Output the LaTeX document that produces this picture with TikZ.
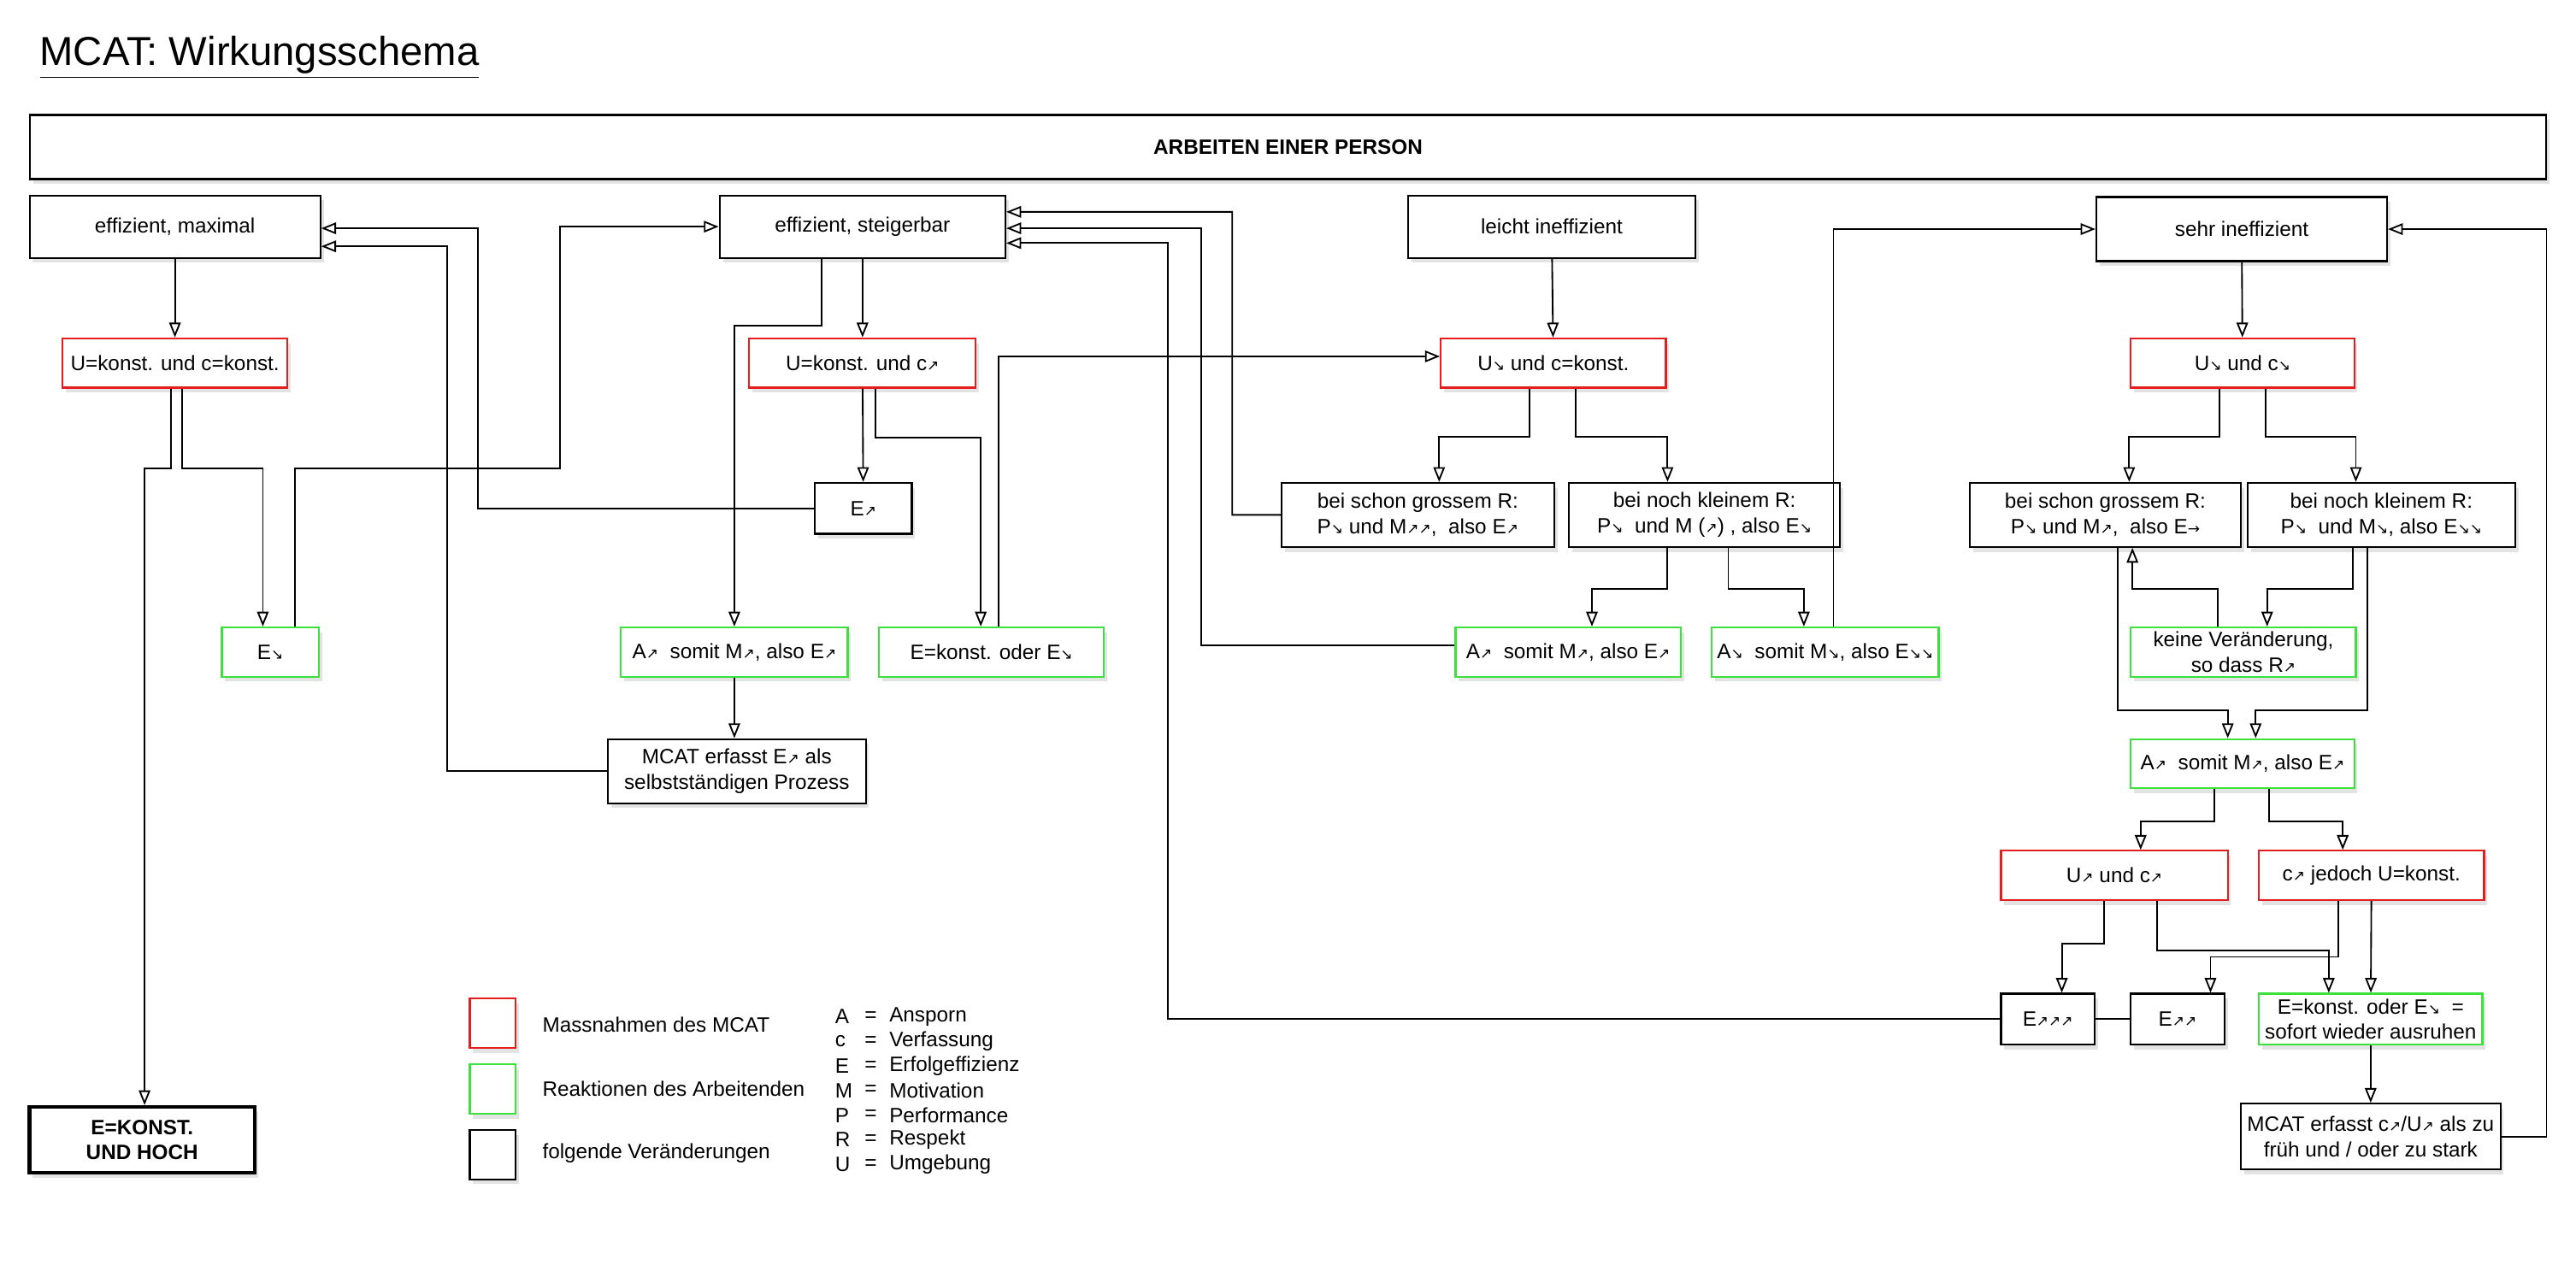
\documentclass[tikz,border=0pt]{standalone}
\usepackage{fontspec}
\setmainfont{Liberation Sans}
\newfontfamily\arrfont{DejaVu Sans}[Scale=0.7]
\newcommand{\nea}{{\arrfont\char"2197}}
\newcommand{\sea}{{\arrfont\char"2198}}
\newcommand{\rar}{{\arrfont\char"2192}}
\usetikzlibrary{arrows.meta}
\usetikzlibrary{positioning}
\usetikzlibrary{shadows}
\definecolor{mred}{RGB}{228,30,30}
\definecolor{mgreen}{RGB}{60,225,60}

\begin{document}
\begin{tikzpicture}[x=0.02cm, y=-0.02cm, font=\fontsize{7.2}{8.8}\selectfont]
    \tikzstyle{box}=[draw, fill=white, line width=0.65pt, align=center, inner sep=1pt,
        drop shadow={shadow xshift=0.04cm, shadow yshift=-0.06cm, opacity=0.22}]
    \tikzstyle{mass}=[box, draw=mred]
    \tikzstyle{reak}=[box, draw=mgreen]
    \tikzstyle{arr}=[-{Triangle[open, length=0.18cm, width=0.14cm]}, line width=0.55pt]
    \tikzstyle{line}=[line width=0.55pt]

    \useasboundingbox (0,0) rectangle (1568,777.5);

    \node[anchor=west, font=\fontsize{14}{16}\selectfont] (title) at (18,35) {\underline{MCAT: Wirkungsschema}};
    \node[box, minimum width=30.64cm, minimum height=0.78cm, font=\fontsize{7.2}{8.8}\bfseries] (header) at (784,89.5) {ARBEITEN EINER PERSON};

    \node[box, minimum width=3.54cm, minimum height=0.76cm] (effmax) at (106.5,138) {effizient, maximal};
    \node[box, minimum width=3.48cm, minimum height=0.76cm] (effst) at (525,138) {effizient, steigerbar};
    \node[box, minimum width=3.5cm, minimum height=0.76cm] (leicht) at (944.5,138) {leicht ineffizient};
    \node[box, minimum width=3.54cm, minimum height=0.78cm] (sehr) at (1364.5,139.5) {sehr ineffizient};

    \node[mass, minimum width=2.74cm, minimum height=0.6cm] (U1) at (106.5,221) {U=konst. und c=konst.};
    \node[mass, minimum width=2.76cm, minimum height=0.6cm] (U2) at (525,221) {U=konst. und c\nea};
    \node[mass, minimum width=2.74cm, minimum height=0.6cm] (U3) at (945.5,221) {U\sea\ und c=konst.};
    \node[mass, minimum width=2.72cm, minimum height=0.6cm] (U4) at (1365,221) {U\sea\ und c\sea};

    \node[box, minimum width=1.18cm, minimum height=0.62cm] (Eup) at (525.5,309.5) {E\nea};
    \node[box, minimum width=3.32cm, minimum height=0.78cm] (bs1) at (863,313.5) {bei schon grossem R:\\P\sea\ und M\nea\nea,\ \ also E\nea};
    \node[box, minimum width=3.3cm, minimum height=0.78cm] (bn1) at (1037.5,313.5) {bei noch kleinem R:\\P\sea\ \ und M (\nea) , also E\sea};
    \node[box, minimum width=3.3cm, minimum height=0.78cm] (bs2) at (1281.5,313.5) {bei schon grossem R:\\P\sea\ und M\nea,\ \ also E\rar};
    \node[box, minimum width=3.26cm, minimum height=0.78cm] (bn2) at (1449.5,313.5) {bei noch kleinem R:\\P\sea\ \ und M\sea, also E\sea\sea};

    \node[reak, minimum width=1.18cm, minimum height=0.6cm] (Edown) at (164.5,397) {E\sea};
    \node[reak, minimum width=2.76cm, minimum height=0.6cm] (A1) at (447,397) {A\nea\ \ somit M\nea, also E\nea};
    \node[reak, minimum width=2.74cm, minimum height=0.6cm] (Ek) at (603.5,397) {E=konst. oder E\sea};
    \node[reak, minimum width=2.74cm, minimum height=0.6cm] (A2) at (954.5,397) {A\nea\ \ somit M\nea, also E\nea};
    \node[reak, minimum width=2.76cm, minimum height=0.6cm] (Adown) at (1111,397) {A\sea\ \ somit M\sea, also E\sea\sea};
    \node[reak, minimum width=2.74cm, minimum height=0.6cm] (kv) at (1365.5,397) {keine Veränderung,\\so dass R\nea};

    \node[box, minimum width=3.14cm, minimum height=0.78cm] (MCAT1) at (448.5,469.5) {MCAT erfasst E\nea\ als\\selbstständigen Prozess};
    \node[reak, minimum width=2.72cm, minimum height=0.6cm] (A3) at (1365,465) {A\nea\ \ somit M\nea, also E\nea};
    \node[mass, minimum width=2.76cm, minimum height=0.6cm] (Uc) at (1287,533) {U\nea\ und c\nea};
    \node[mass, minimum width=2.74cm, minimum height=0.6cm] (cj) at (1443.5,533) {c\nea\ jedoch U=konst.};

    \node[box, minimum width=1.14cm, minimum height=0.62cm] (E3) at (1246.5,620.5) {E\nea\nea\nea};
    \node[box, minimum width=1.14cm, minimum height=0.62cm] (E2) at (1325.5,620.5) {E\nea\nea};
    \node[reak, minimum width=2.72cm, minimum height=0.62cm] (Ek2) at (1443,620.5) {E=konst. oder E\sea\ \ =\\sofort wieder ausruhen};
    \node[box, minimum width=3.16cm, minimum height=0.8cm] (MCAT2) at (1443,692) {MCAT erfasst c\nea/U\nea\ als zu\\früh und / oder zu stark};
    \node[box, line width=1.3pt, minimum width=2.74cm, minimum height=0.8cm, font=\fontsize{7.2}{8.8}\bfseries] (EKONST) at (86.5,694) {E=KONST.\\UND HOCH};

    % legend
    \node[mass, minimum width=0.56cm, minimum height=0.6cm] (legm) at (300,623) {};
    \node[reak, minimum width=0.56cm, minimum height=0.6cm] (legr) at (300,663) {};
    \node[box, minimum width=0.56cm, minimum height=0.6cm] (legf) at (300,703) {};
    \node[anchor=west] (legmt) at (324,624) {Massnahmen des MCAT};
    \node[anchor=west] (legrt) at (324,663) {Reaktionen des Arbeitenden};
    \node[anchor=west] (legft) at (324,702) {folgende Veränderungen};
    \foreach \k/\w [count=\i from 0] in {A/Ansporn, c/Verfassung, E/Erfolgeffizienz, M/Motivation, P/Performance, R/Respekt, U/Umgebung} {
        \node[anchor=west, inner sep=0pt] (abk\i) at (508,619+15*\i) {\k};
        \node[anchor=west, inner sep=0pt] (abkeq\i) at (526,619+15*\i) {=};
        \node[anchor=west, inner sep=0pt] (abkw\i) at (541,619+15*\i) {\w};
    }

    % connectors, left part
    \draw[arr] (effmax) -- (U1);
    \draw[arr] ([xshift=-0.05cm]U1.south) |- (88,285) -- (EKONST.north -| 88,285);
    \draw[arr] ([xshift=0.09cm]U1.south) |- (160,285) -- (Edown.north -| 160,285);
    \draw[arr] ([xshift=0.3cm]Edown.north) |- (341,285) |- (effst.west);
    \draw[arr] (Eup.west) -| (291,139) -- (effmax.east |- 291,139);
    \draw[arr] (MCAT1.west) -| (272,150) -- (effmax.east |- 272,150);
    \draw[arr] (effst) -- (U2);
    \draw[arr] ([xshift=-0.5cm]effst.south) -- ++(0,40.5) -| (A1);
    \draw[arr] (U2) -- (Eup);
    \draw[arr] ([xshift=0.16cm]U2.south) -- ++(0,30) -| ([xshift=-0.13cm]Ek.north);
    \draw[arr] ([xshift=0.09cm]Ek.north) |- ([yshift=0.08cm]U3.west);
    \draw[arr] (A1) -- (MCAT1.north -| A1.south);
    \draw[arr] (bs1.west) -| (750,129) -- ([yshift=0.18cm]effst.east);
    \draw[arr] ([yshift=0.08cm]A2.west) -| (731,139) -- (effst.east |- 731,139);
    \draw[arr] (E3.west) -| (711,148) -- (effst.east |- 711,148);

    % connectors, right part
    \draw[arr] (leicht) -- (U3);
    \draw[arr] ([xshift=-0.29cm]U3.south) -- ++(0,29.5) -| ([xshift=0.26cm]bs1.north);
    \draw[arr] ([xshift=0.27cm]U3.south) -- ++(0,29.5) -| ([xshift=-0.45cm]bn1.north);
    \draw[arr] ([xshift=-0.45cm]bn1.south) -- ++(0,25) -| ([xshift=0.29cm]A2.north);
    \draw[arr] ([xshift=0.29cm]bn1.south) -- ++(0,25) -| ([xshift=-0.26cm]Adown.north);
    \draw[arr] ([xshift=0.1cm]Adown.north) |- (sehr.west);
    \draw[arr] (sehr) -- (U4);
    \draw[arr] (MCAT2.east) -| (1550,139.5) -- (sehr.east);
    \draw[arr] ([xshift=-0.28cm]U4.south) -- ++(0,29.5) -| ([xshift=0.29cm]bs2.north);
    \draw[arr] ([xshift=0.28cm]U4.south) -- ++(0,29.5) -| ([xshift=-0.31cm]bn2.north);
    \draw[arr] ([xshift=-0.31cm]kv.north) -- ++(0,-23) -| ([xshift=0.33cm]bs2.south);
    \draw[arr] ([xshift=-0.35cm]bn2.south) -- ++(0,25) -| ([xshift=0.29cm]kv.north);
    \draw[arr] ([xshift=0.15cm]bs2.south) -- ++(0,99) -| ([xshift=-0.18cm]A3.north);
    \draw[arr] ([xshift=-0.17cm]bn2.south) -- ++(0,99) -| ([xshift=0.16cm]A3.north);
    \draw[arr] ([xshift=-0.34cm]A3.south) -- ++(0,19.5) -| ([xshift=0.32cm]Uc.north);
    \draw[arr] ([xshift=0.32cm]A3.south) -- ++(0,19.5) -| ([xshift=-0.35cm]cj.north);
    \draw[arr] ([xshift=-0.13cm]Uc.south) -- ++(0,26) -| ([xshift=0.17cm]E3.north);
    \draw[arr] ([xshift=0.52cm]Uc.south) -- ++(0,30) -| ([xshift=-0.51cm]Ek2.north);
    \draw[arr] ([xshift=-0.4cm]cj.south) -- ++(0,34) -| ([xshift=0.4cm]E2.north);
    \draw[arr] (cj) -- (Ek2);
    \draw[line] (E3) -- (E2);
    \draw[arr] (Ek2) -- (MCAT2);
\end{tikzpicture}
\end{document}
